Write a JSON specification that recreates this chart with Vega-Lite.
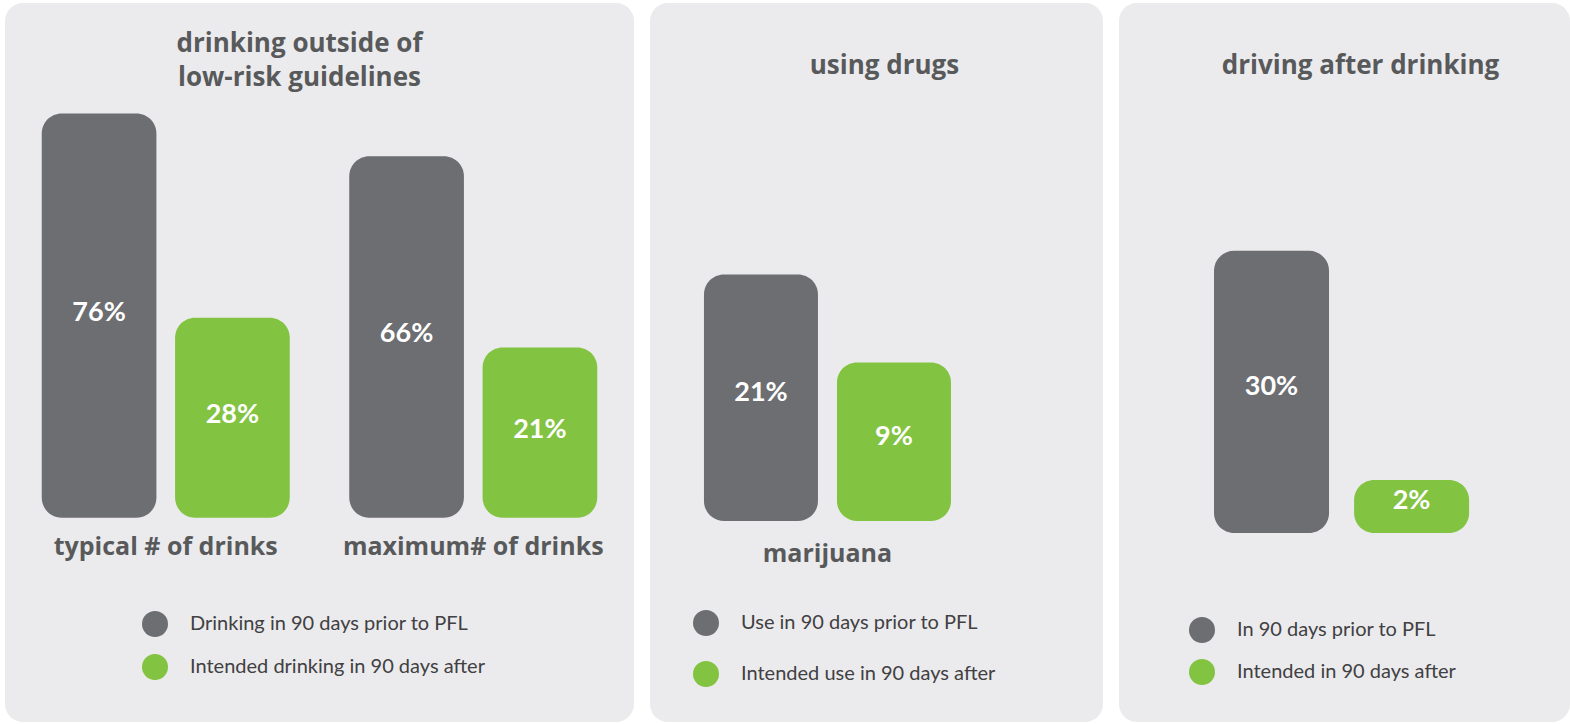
{
  "$schema": "https://vega.github.io/schema/vega-lite/v6.json",
  "background": "#ffffff",
  "padding": {"left": 5, "top": 3, "right": 0, "bottom": 2},
  "spacing": 16,
  "config": {
    "view": {"fill": "#ebebed", "stroke": null, "cornerRadius": 18},
    "font": "Lato"
  },
  "data": {
    "values": [
      {"panel": "drinking", "measure": "typical # of drinks", "period": "Drinking in 90 days prior to PFL", "value": 0.76},
      {"panel": "drinking", "measure": "typical # of drinks", "period": "Intended drinking in 90 days after", "value": 0.28},
      {"panel": "drinking", "measure": "maximum# of drinks", "period": "Drinking in 90 days prior to PFL", "value": 0.66},
      {"panel": "drinking", "measure": "maximum# of drinks", "period": "Intended drinking in 90 days after", "value": 0.21},
      {"panel": "drugs", "measure": "marijuana", "period": "Use in 90 days prior to PFL", "value": 0.21},
      {"panel": "drugs", "measure": "marijuana", "period": "Intended use in 90 days after", "value": 0.09},
      {"panel": "driving", "measure": "driving after drinking", "period": "In 90 days prior to PFL", "value": 0.30},
      {"panel": "driving", "measure": "driving after drinking", "period": "Intended in 90 days after", "value": 0.02}
    ]
  },
  "resolve": {
    "scale": {"x": "independent", "y": "independent", "color": "independent", "xOffset": "independent"},
    "legend": {"color": "independent"}
  },
  "hconcat": [
    {
      "width": 629,
      "height": 719,
      "transform": [{"filter": "datum.panel === 'drinking'"}],
      "title": {
        "text": ["drinking outside of", "low-risk guidelines"],
        "anchor": "middle", "frame": "group", "offset": -88, "dx": -20,
        "font": "Open Sans", "fontSize": 26, "fontWeight": "bold", "color": "#58595b", "lineHeight": 34
      },
      "encoding": {
        "x": {
          "field": "measure", "type": "nominal", "sort": null,
          "scale": {"paddingInner": 0.1935, "paddingOuter": 0.1195},
          "axis": {"title": null, "orient": "bottom", "offset": -176, "domain": false, "ticks": false, "grid": false,
            "labelPadding": 0, "labelBaseline": "middle", "labelAngle": 0, "labelLimit": 400,
            "labelFont": "Open Sans", "labelFontSize": 25, "labelFontWeight": "bold", "labelColor": "#58595b"}
        },
        "xOffset": {"field": "period", "type": "nominal", "sort": null, "scale": {"paddingInner": 0.14, "paddingOuter": 0}}
      },
      "layer": [
        {
          "mark": {"type": "bar", "cornerRadius": 20},
          "encoding": {
            "y": {"field": "value", "type": "quantitative", "scale": {"domain": [-0.67, 1.02], "zero": false, "nice": false}, "axis": null},
            "y2": {"datum": -0.19},
            "color": {
              "field": "period", "type": "nominal", "sort": null,
              "scale": {"domain": ["Drinking in 90 days prior to PFL", "Intended drinking in 90 days after"], "range": ["#6d6e72", "#82c341"]},
              "legend": {"title": null, "orient": "none", "legendX": 137, "legendY": 608, "direction": "vertical",
                "symbolType": "circle", "symbolSize": 676, "symbolStrokeWidth": 0, "padding": 0,
                "labelFont": "Lato", "labelFontSize": 20, "labelColor": "#414042", "labelOffset": 22, "rowPadding": 17, "labelLimit": 500}
            }
          }
        },
        {
          "mark": {"type": "text", "color": "#ffffff", "font": "Lato", "fontSize": 27, "fontWeight": "bold", "baseline": "middle", "dy": -3},
          "encoding": {
            "y": {"field": "value", "type": "quantitative", "scale": {"domain": [-1.15, 2.23], "zero": false, "nice": false}, "axis": null},
            "text": {"field": "value", "type": "quantitative", "format": ".0%"}
          }
        }
      ],
      "resolve": {"scale": {"y": "independent"}}
    },
    {
      "width": 453,
      "height": 719,
      "transform": [{"filter": "datum.panel === 'drugs'"}],
      "title": {
        "text": "using drugs",
        "anchor": "middle", "frame": "group", "offset": -76, "dx": 8,
        "font": "Open Sans", "fontSize": 26, "fontWeight": "bold", "color": "#58595b"
      },
      "encoding": {
        "x": {
          "field": "measure", "type": "nominal", "sort": null,
          "scale": {"paddingInner": 0, "paddingOuter": 0.417, "align": 0.262},
          "axis": {"title": null, "orient": "bottom", "offset": -169, "domain": false, "ticks": false, "grid": false,
            "labelPadding": 0, "labelBaseline": "middle", "labelAngle": 0, "labelLimit": 400,
            "labelFont": "Open Sans", "labelFontSize": 25, "labelFontWeight": "bold", "labelColor": "#58595b"}
        },
        "xOffset": {"field": "period", "type": "nominal", "sort": null, "scale": {"paddingInner": 0.143, "paddingOuter": 0}}
      },
      "layer": [
        {
          "mark": {"type": "bar", "cornerRadius": 20},
          "encoding": {
            "y": {"field": "value", "type": "quantitative", "scale": {"domain": [-0.40, 0.58], "zero": false, "nice": false}, "axis": null},
            "y2": {"datum": -0.126},
            "color": {
              "field": "period", "type": "nominal", "sort": null,
              "scale": {"domain": ["Use in 90 days prior to PFL", "Intended use in 90 days after"], "range": ["#6d6e72", "#82c341"]},
              "legend": {"title": null, "orient": "none", "legendX": 43, "legendY": 607, "direction": "vertical",
                "symbolType": "circle", "symbolSize": 676, "symbolStrokeWidth": 0, "padding": 0,
                "labelFont": "Lato", "labelFontSize": 20, "labelColor": "#414042", "labelOffset": 22, "rowPadding": 25, "labelLimit": 500}
            }
          }
        },
        {
          "mark": {"type": "text", "color": "#ffffff", "font": "Lato", "fontSize": 27, "fontWeight": "bold", "baseline": "middle", "dy": -5},
          "encoding": {
            "y": {"field": "value", "type": "quantitative", "scale": {"domain": [-0.674, 1.286], "zero": false, "nice": false}, "axis": null},
            "text": {"field": "value", "type": "quantitative", "format": ".0%"}
          }
        }
      ],
      "resolve": {"scale": {"y": "independent"}}
    },
    {
      "width": 451,
      "height": 719,
      "transform": [{"filter": "datum.panel === 'driving'"}],
      "title": {
        "text": "driving after drinking",
        "anchor": "middle", "frame": "group", "offset": -76, "dx": 16,
        "font": "Open Sans", "fontSize": 26, "fontWeight": "bold", "color": "#58595b"
      },
      "encoding": {
        "x": {
          "field": "measure", "type": "nominal", "sort": null,
          "scale": {"paddingInner": 0, "paddingOuter": 0.384, "align": 0.485},
          "axis": null
        },
        "xOffset": {"field": "period", "type": "nominal", "sort": null, "scale": {"paddingInner": 0.179, "paddingOuter": 0}}
      },
      "layer": [
        {
          "mark": {"type": "bar", "cornerRadius": 20},
          "encoding": {
            "y": {"field": "value", "type": "quantitative", "scale": {"domain": [-0.276, 0.603], "zero": false, "nice": false}, "axis": null},
            "y2": {"datum": -0.045},
            "color": {
              "field": "period", "type": "nominal", "sort": null,
              "scale": {"domain": ["In 90 days prior to PFL", "Intended in 90 days after"], "range": ["#6d6e72", "#82c341"]},
              "legend": {"title": null, "orient": "none", "legendX": 70, "legendY": 614, "direction": "vertical",
                "symbolType": "circle", "symbolSize": 676, "symbolStrokeWidth": 0, "padding": 0,
                "labelFont": "Lato", "labelFontSize": 20, "labelColor": "#414042", "labelOffset": 22, "rowPadding": 16, "labelLimit": 500}
            }
          }
        },
        {
          "mark": {"type": "text", "color": "#ffffff", "font": "Lato", "fontSize": 27, "fontWeight": "bold", "baseline": "middle", "dy": -5},
          "encoding": {
            "y": {"field": "value", "type": "quantitative", "scale": {"domain": [-0.507, 1.251], "zero": false, "nice": false}, "axis": null},
            "text": {"field": "value", "type": "quantitative", "format": ".0%"}
          }
        }
      ],
      "resolve": {"scale": {"y": "independent"}}
    }
  ]
}
